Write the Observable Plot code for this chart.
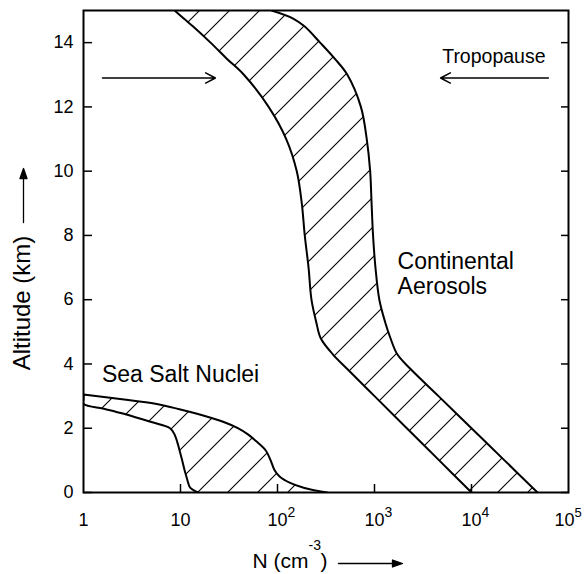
<!DOCTYPE html>
<html><head><meta charset="utf-8">
<script src="https://cdn.jsdelivr.net/npm/d3@7"></script>
<script src="https://cdn.jsdelivr.net/npm/@observablehq/plot@0.6"></script>
<style>body{margin:0;background:#fff}</style>
</head><body><div id="chart"></div>
<script>
// Continental aerosols band: altitude (km) and N (cm^-3) at the two edges
const contAlt  = [0, 1, 2, 3, 3.85, 4.3, 4.8, 5.3, 6, 7, 8, 9, 10, 11, 12, 13, 13.5, 14, 14.5, 14.75, 15];
const contLow  = [10000, 4645, 2153, 1000, 521, 372, 279, 251, 224, 209, 191, 178, 158, 123, 81, 45, 30, 20.4, 13.5, 10.8, 8.7];
const contHigh = [47900, 21900, 10000, 4570, 2340, 1718, 1462, 1288, 1122, 1023, 966, 933, 902, 832, 724, 525, 389, 275, 191, 145, 87];
// Sea salt nuclei band
const seaAlt  = [0, 0.15, 0.3, 0.5, 0.7, 1.0, 1.3, 1.6, 1.8, 2.0, 2.2, 2.45, 2.6, 2.76, 2.9, 3.05];
const seaLow  = [15.1, 12.6, 12.0, 11.5, 11.0, 10.4, 9.8, 9.2, 8.7, 7.8, 4.9, 2.6, 1.66, 1, 1, 1];
const seaHigh = [324, 186, 135, 105, 93, 85, 76, 60, 50, 39, 27.5, 14.8, 9.5, 5.5, 2.5, 1];
// ticks
const xTicks = [1, 10, 100, 1000, 10000];
const xTickBase = ["1", "10", "10", "10", "10"];
const xTickExp = ["", "", "2", "3", "4"];
const xLastTick = [100000];
const xLastBase = ["10"];
const xLastExp = ["5"];
const xInnerTicks = [10, 100, 1000, 10000];
const yTicks = [0, 2, 4, 6, 8, 10, 12, 14];
// tropopause arrows
const arrowFrom = [1.57, 62000];
const arrowTo = [22.9, 4800];
const arrowAlt = [12.9, 12.9];
// annotations
const noteText = ["Sea Salt Nuclei", "Continental", "Aerosols", "Tropopause"];
const noteX = [1.55, 1730, 1730, 58000];
const noteY = [3.43, 6.97, 6.19, 13.38];

const contData = contAlt.map((y, i) => ({y, lo: contLow[i], hi: contHigh[i]}));
const seaData = seaAlt.map((y, i) => ({y, lo: seaLow[i], hi: seaHigh[i]}));
const arrowData = arrowFrom.map((x1, i) => ({x1, x2: arrowTo[i], y: arrowAlt[i]}));
const notes = noteText.map((t, i) => ({t, x: noteX[i], y: noteY[i]}));

const arrowShape = {
  draw(ctx, l) {
    ctx.moveTo(0, 0); ctx.lineTo(0, -l + 8);
    ctx.moveTo(-3.5, -l + 10); ctx.lineTo(0, -l); ctx.lineTo(3.5, -l + 10); ctx.closePath();
  }
};
const curve = "catmull-rom";

const svg = Plot.plot({
  width: 584, height: 574,
  marginLeft: 83, marginRight: 16, marginTop: 10, marginBottom: 82,
  style: {fontFamily: "'Liberation Sans', Arial, sans-serif", fontSize: "18px", color: "black", background: "white", overflow: "visible"},
  x: {type: "log", domain: [1, 100000]},
  y: {domain: [0, 15]},
  marks: [
    Plot.areaX(contData, {y: "y", x1: "lo", x2: "hi", fill: "url(#hatch)", curve, clip: true}),
    Plot.areaX(seaData, {y: "y", x1: "lo", x2: "hi", fill: "url(#hatch)", curve, clip: true}),
    Plot.line(contData, {x: "lo", y: "y", curve, strokeWidth: 2, clip: true}),
    Plot.line(contData, {x: "hi", y: "y", curve, strokeWidth: 2, clip: true}),
    Plot.line(seaData, {x: "lo", y: "y", curve, strokeWidth: 2, clip: true}),
    Plot.line(seaData, {x: "hi", y: "y", curve, strokeWidth: 2, clip: true}),
    Plot.frame({strokeWidth: 2}),
    Plot.axisY({ticks: yTicks, tickSize: -9, tickPadding: 19, fontSize: 18, label: null, strokeWidth: 1.5}),
    Plot.axisY({anchor: "right", ticks: yTicks, tickSize: -8, tickFormat: () => "", label: null, strokeWidth: 1.5}),
    Plot.axisX({ticks: xInnerTicks, tickSize: -8, tickFormat: () => "", label: null, strokeWidth: 1.5}),
    Plot.text(xTicks, {x: d => d, text: (d, i) => xTickBase[i], frameAnchor: "bottom", dy: 33, lineAnchor: "bottom", fontSize: 18}),
    Plot.text(xTicks, {x: d => d, text: (d, i) => xTickExp[i], frameAnchor: "bottom", dx: 10, dy: 24, textAnchor: "start", lineAnchor: "bottom", fontSize: 14}),
    Plot.text(xLastTick, {x: d => d, text: (d, i) => xLastBase[i], frameAnchor: "bottom", dx: -4, dy: 33, lineAnchor: "bottom", fontSize: 18}),
    Plot.text(xLastTick, {x: d => d, text: (d, i) => xLastExp[i], frameAnchor: "bottom", dx: 6, dy: 24, textAnchor: "start", lineAnchor: "bottom", fontSize: 13}),
    Plot.arrow(arrowData, {x1: "x1", x2: "x2", y1: "y", y2: "y", headLength: 11, headAngle: 55, strokeWidth: 1.5}),
    Plot.text(notes.slice(0, 3), {x: "x", y: "y", text: "t", textAnchor: "start", lineAnchor: "bottom", fontSize: 23}),
    Plot.text(notes.slice(3), {x: "x", y: "y", text: "t", textAnchor: "end", lineAnchor: "bottom", fontSize: 19.5}),
    Plot.text(["Altitude (km)"], {frameAnchor: "left", dx: -61, dy: 51.5, rotate: -90, textAnchor: "middle", lineAnchor: "middle", fontSize: 24}),
    Plot.vector([0], {frameAnchor: "left", dx: -60, dy: -29, length: 54, rotate: 0, anchor: "start", shape: arrowShape, fill: "black", stroke: "black", strokeWidth: 1.3}),
    Plot.text(["N (cm"], {frameAnchor: "bottom", dx: -73.5, dy: 75, textAnchor: "start", lineAnchor: "bottom", fontSize: 21}),
    Plot.text(["-3"], {frameAnchor: "bottom", dx: -17.5, dy: 57, textAnchor: "start", lineAnchor: "bottom", fontSize: 14}),
    Plot.text([")"], {frameAnchor: "bottom", dx: -5.5, dy: 75, textAnchor: "start", lineAnchor: "bottom", fontSize: 21}),
    Plot.vector([0], {frameAnchor: "bottom", dx: 12.5, dy: 71, length: 64, rotate: 90, anchor: "start", shape: arrowShape, fill: "black", stroke: "black", strokeWidth: 1.3})
  ]
});
d3.select(svg).insert("defs", ":first-child").html(
  '<pattern id="hatch" patternUnits="userSpaceOnUse" width="30" height="30"><path d="M-5,35L35,-5M-5,5L5,-5M25,35L35,25" stroke="black" stroke-width="1.1" fill="none"/></pattern>'
);
document.getElementById("chart").appendChild(svg);
</script>
</body></html>
